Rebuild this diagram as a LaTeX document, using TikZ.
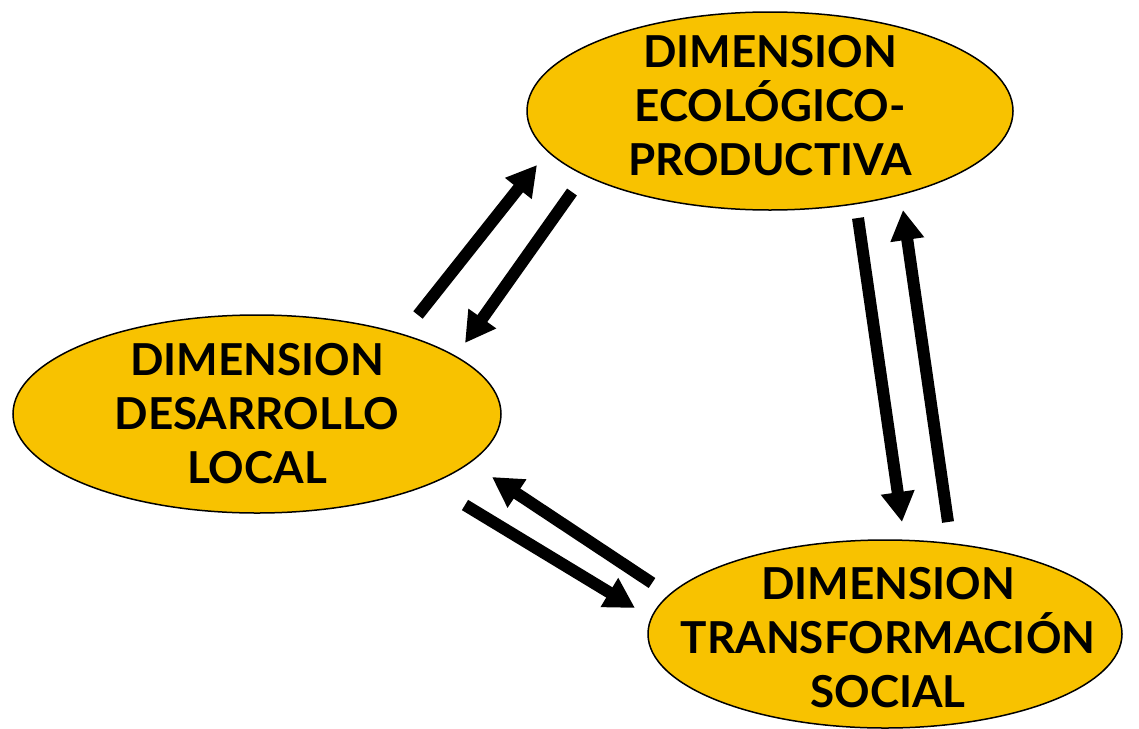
\documentclass[tikz,border=0pt]{standalone}
\usepackage{fontspec}
\setmainfont{Lato}
\usetikzlibrary{shapes.geometric,arrows.meta}
\definecolor{gold}{RGB}{248,194,0}
\begin{document}
\begin{tikzpicture}[x=1pt,y=-1pt,
  dimbox/.style={ellipse,draw=black,line width=1.5pt,fill=gold,inner sep=0pt},
  dimtext/.style={align=center,inner sep=0pt,font=\fontsize{44}{54}\selectfont\bfseries},
  bigarrow/.style={line width=12pt,-{Triangle[width=32pt,length=30pt]}}]
\useasboundingbox (0,0) rectangle (1139,728);
\node[dimbox,minimum width=486pt,minimum height=198pt] (eco) at (770,111) {};
\node[dimtext] (ecot) at (770,106) {DIMENSION\\ECOLÓGICO-\\PRODUCTIVA};
\node[dimbox,minimum width=488pt,minimum height=198pt] (loc) at (257,414) {};
\node[dimtext] (loct) at (257,414) {DIMENSION\\DESARROLLO\\LOCAL};
\node[dimbox,minimum width=474pt,minimum height=188pt] (soc) at (885,634) {};
\node[dimtext] (soct) at (888,638) {DIMENSION\\TRANSFORMACIÓN\\SOCIAL};
% arrow ends
\coordinate (a1) at (418,315); \coordinate (a2) at (537,165);
\coordinate (b1) at (572,192); \coordinate (b2) at (465,343);
\coordinate (c1) at (858,218); \coordinate (c2) at (902,522);
\coordinate (d1) at (948,522); \coordinate (d2) at (903,210);
\coordinate (e1) at (652,583); \coordinate (e2) at (492,477);
\coordinate (f1) at (465,505); \coordinate (f2) at (635,608);
\draw[bigarrow] (a1) -- (a2);
\draw[bigarrow] (b1) -- (b2);
\draw[bigarrow] (c1) -- (c2);
\draw[bigarrow] (d1) -- (d2);
\draw[bigarrow] (e1) -- (e2);
\draw[bigarrow] (f1) -- (f2);
\end{tikzpicture}
\end{document}
